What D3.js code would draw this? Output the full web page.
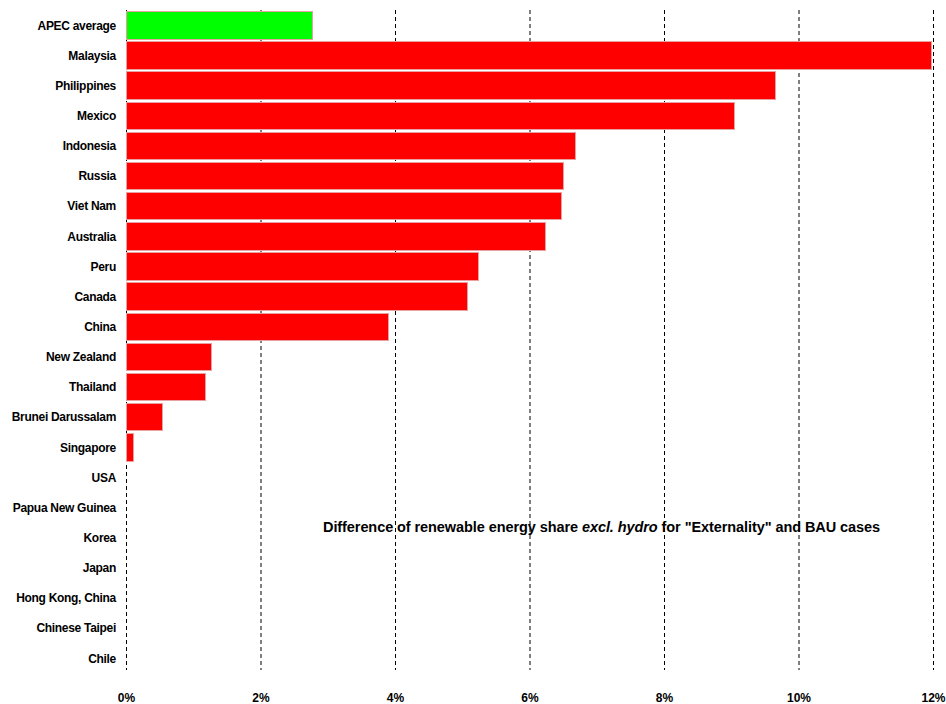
<!DOCTYPE html>
<html><head><meta charset="utf-8">
<script src="https://cdn.jsdelivr.net/npm/d3@7"></script>
<style>body{margin:0;background:#fff}svg{display:block}</style>
</head><body><svg id="c" width="946" height="704"></svg>
<script>
const categories = ["APEC average","Malaysia","Philippines","Mexico","Indonesia","Russia","Viet Nam","Australia","Peru","Canada","China","New Zealand","Thailand","Brunei Darussalam","Singapore","USA","Papua New Guinea","Korea","Japan","Hong Kong, China","Chinese Taipei","Chile"];
const values = [2.76,11.97,9.65,9.04,6.68,6.50,6.47,6.23,5.24,5.07,3.89,1.27,1.18,0.54,0.10,0,0,0,0,0,0,0];
const ticks = [0,2,4,6,8,10,12];
const FONT = "'Liberation Sans Narrow','Arial Narrow','Liberation Sans',Arial,sans-serif";
const svg = d3.select("#c");
const x = d3.scaleLinear().domain([0,12]).range([126.5,933.5]);
const y = d3.scaleBand().domain(categories).range([10.34,673.4]).paddingInner(0.09).paddingOuter(0.045);
// gridlines
svg.append("g").selectAll("line").data(ticks).join("line")
  .attr("x1",d=>x(d)).attr("x2",d=>x(d)).attr("y1",10).attr("y2",670)
  .attr("stroke","#000").attr("stroke-width",1).attr("stroke-dasharray","4,3");
// bars
svg.append("g").selectAll("rect").data(categories).join("rect")
  .attr("x",x(0)).attr("y",d=>y(d)).attr("height",y.bandwidth())
  .attr("width",(d,i)=>x(values[i])-x(0))
  .attr("fill",(d,i)=>i===0?"#00ff00":"#ff0000")
  .attr("stroke",(d,i)=>values[i]>0?"#e8a0a0":"none").attr("stroke-width",1)
  .attr("shape-rendering","crispEdges");
// category labels
svg.append("g").selectAll("text").data(categories).join("text")
  .attr("x",116).attr("y",d=>y(d)+y.bandwidth()/2).attr("dy","0.35em")
  .attr("text-anchor","end").attr("font-family",FONT).attr("font-weight","bold")
  .attr("font-size",12).attr("letter-spacing","-0.3px").attr("fill","#000").text(d=>d);
// x tick labels
svg.append("g").selectAll("text").data(ticks).join("text")
  .attr("x",d=>x(d)).attr("y",702).attr("text-anchor","middle")
  .attr("font-family",FONT).attr("font-weight","bold").attr("font-size",12)
  .attr("fill","#000").text(d=>d+"%");
// annotation
const t = svg.append("text").attr("x",323).attr("y",532).attr("font-family",FONT)
  .attr("font-weight","bold").attr("font-size",14.5).attr("letter-spacing","-0.08px").attr("fill","#000");
t.append("tspan").text("Difference of renewable energy share ");
t.append("tspan").attr("font-style","italic").text("excl. hydro");
t.append("tspan").text(" for \"Externality\" and BAU cases");
</script></body></html>
